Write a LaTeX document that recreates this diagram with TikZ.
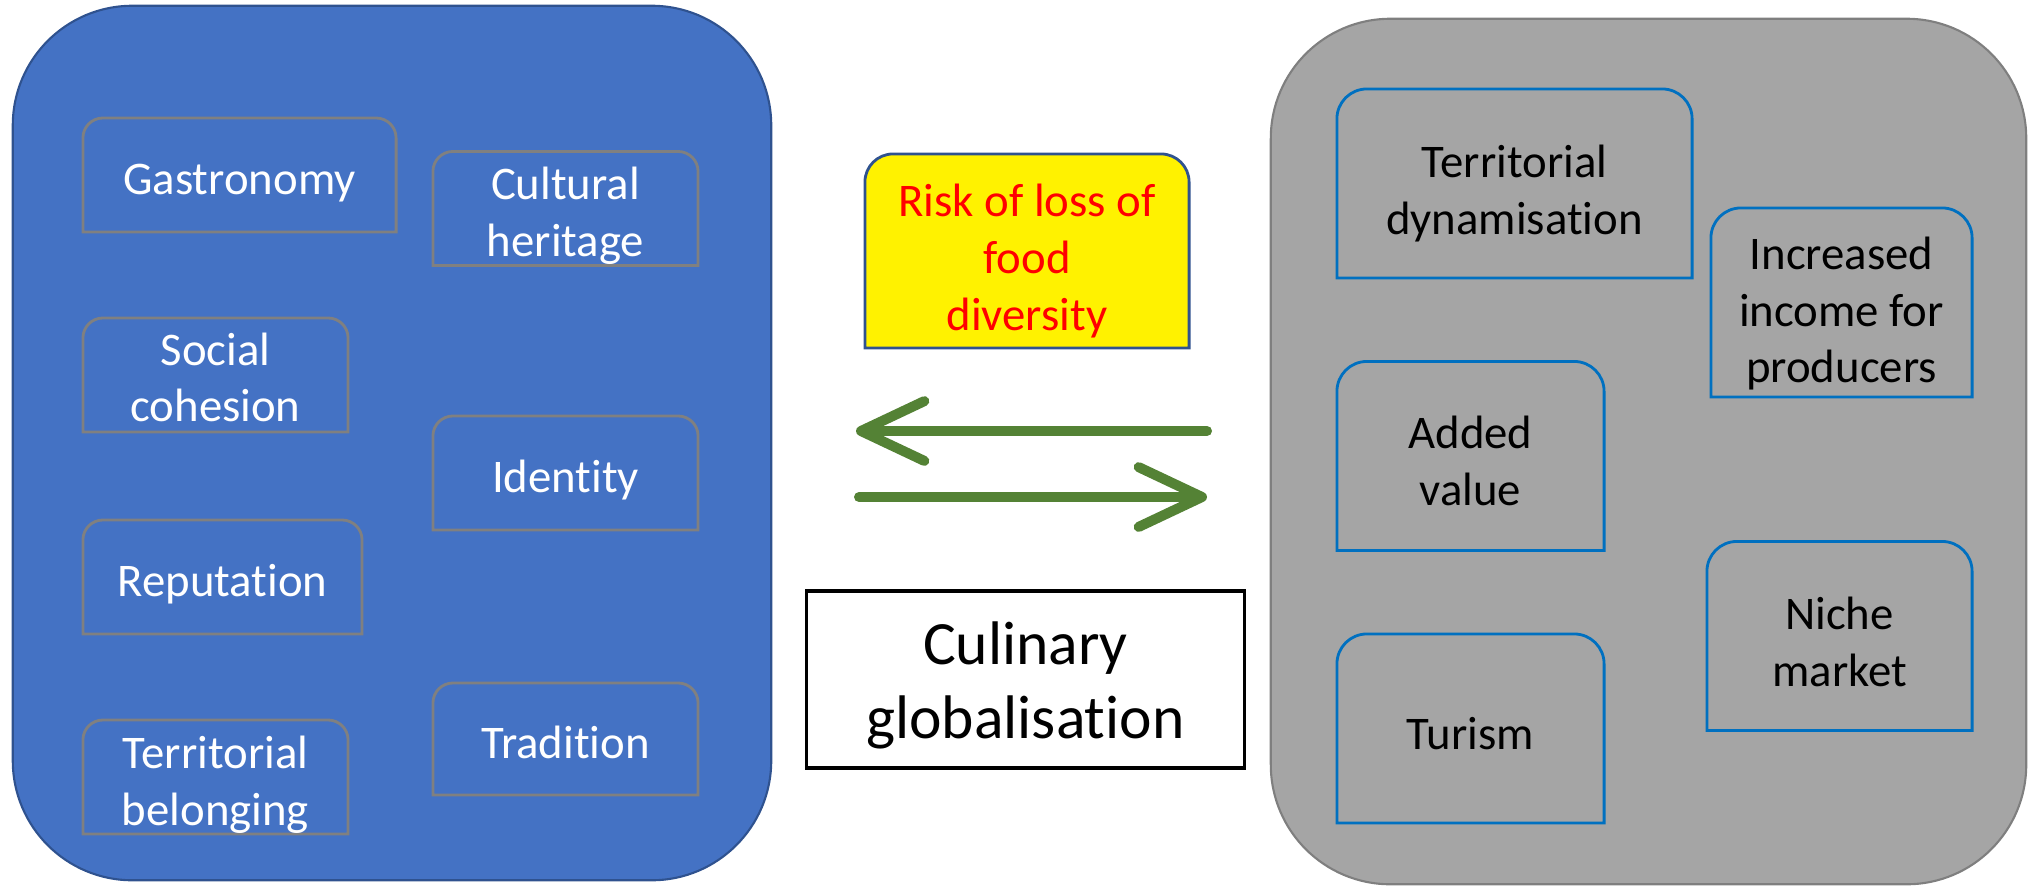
\documentclass[tikz,border=0pt]{standalone}
\usepackage{fontspec}
\setmainfont{Carlito}[Ligatures=NoCommon]
\usetikzlibrary{arrows.meta}
\definecolor{blueback}{RGB}{68,114,196}
\definecolor{blueedge}{RGB}{47,82,143}
\definecolor{tabgray}{RGB}{128,128,128}
\definecolor{grayback}{RGB}{165,165,165}
\definecolor{grayedge}{RGB}{127,127,127}
\definecolor{tabblue}{RGB}{0,112,192}
\definecolor{arrowgreen}{RGB}{84,130,53}
\pgfdeclarelayer{back}
\pgfdeclarelayer{mid}
\pgfsetlayers{back,mid,main}
% outline with rounded top corners only: style, node, radius
\newcommand{\tabframe}[3]{%
  \begin{pgfonlayer}{mid}
  \path[#1] (#2.south west) -- ([yshift=-#3]#2.north west)
    arc[start angle=180,end angle=90,radius=#3] -- ([xshift=-#3]#2.north east)
    arc[start angle=90,end angle=0,radius=#3] -- (#2.south east) -- cycle;
  \end{pgfonlayer}}

\begin{document}
\begin{tikzpicture}[x=0.01cm,y=-0.01cm,inner sep=0pt,outer sep=0pt,align=center,
  font=\fontsize{13.3}{16.2}\selectfont]
 \tikzstyle{bigbox}=[line width=0.6pt,rounded corners=34pt]
 \tikzstyle{leftbox}=[text=white,minimum height=1.14cm]
 \tikzstyle{rightbox}=[text=black,minimum height=1.89cm]
 \tikzstyle{twoway}=[arrowgreen,line width=2.85pt,line cap=round,
   -{Straight Barb[length=18pt,width=17pt,round]}]
 \useasboundingbox (0,0) rectangle (2028,887);

 \begin{pgfonlayer}{back}
   \node[bigbox,fill=blueback,draw=blueedge,minimum width=7.58cm,minimum height=8.74cm] (culture) at (392,443) {};
   \node[bigbox,fill=grayback,draw=grayedge,minimum width=7.55cm,minimum height=8.65cm] (economy) at (1648.5,451.5) {};
 \end{pgfonlayer}

 % left side
 \node[leftbox,minimum width=3.13cm,text height=13.5pt] (gastro)     at (239.5,175) {Gastronomy};
 \node[leftbox,minimum width=2.65cm,text height=29.7pt] (heritage)   at (565.5,208.5) {Cultural\\heritage};
 \node[leftbox,minimum width=2.65cm,text height=26.8pt] (cohesion)   at (215.5,375) {Social\\cohesion};
 \node[leftbox,minimum width=2.65cm,text height=13.5pt] (identity)   at (565.5,473) {Identity};
 \node[leftbox,minimum width=2.79cm,text height=13.5pt] (reputation) at (222.5,577) {Reputation};
 \node[leftbox,minimum width=2.65cm,text height=29.7pt] (belonging)  at (215.5,777) {Territorial\\belonging};
 \node[leftbox,minimum width=2.65cm,text height=11.3pt,minimum height=1.12cm] (tradition) at (565.5,739) {Tradition};
 \foreach \n in {gastro,heritage,cohesion,identity,reputation,belonging,tradition}
   \tabframe{draw=tabgray,line width=0.8pt}{\n}{5.7pt};

 % right side
 \node[rightbox,minimum width=3.55cm,text height=31.1pt] (dynam)  at (1514.5,183.5) {Territorial\\dynamisation};
 \node[rightbox,minimum width=2.61cm,text height=47.9pt] (income) at (1841.5,302.5) {Increased\\income for\\producers};
 \node[rightbox,minimum width=2.67cm,text height=28.3pt] (added)  at (1470.5,456) {Added\\value};
 \node[rightbox,minimum width=2.65cm,text height=28.7pt] (niche)  at (1839.5,636) {Niche\\market};
 \node[rightbox,minimum width=2.67cm,text height=12pt]   (turism) at (1470.5,728.5) {Turism};
 \foreach \n in {dynam,income,added,niche,turism}
   \tabframe{draw=tabblue,line width=0.8pt}{\n}{8.5pt};

 % middle
 \node[text=red,minimum width=3.24cm,minimum height=1.94cm,text height=47.5pt] (risk) at (1027,251) {Risk of loss of\\food\\diversity};
 \tabframe{draw=blueedge,fill=yellow,line width=0.8pt}{risk}{8pt};
 \node[draw=black,fill=white,line width=0.9pt,minimum width=4.37cm,minimum height=1.77cm,text height=36.8pt,
   font=\fontsize{17.5}{21.3}\selectfont] (culinary) at (1025.5,679.5) {Culinary\\globalisation};

 \coordinate (backtail) at (1207,431);
 \coordinate (backtip)  at (856,431);
 \coordinate (fwdtail)  at (859,497);
 \coordinate (fwdtip)   at (1207,497);
 \draw[twoway] (backtail) -- (backtip);
 \draw[twoway] (fwdtail) -- (fwdtip);
\end{tikzpicture}
\end{document}
